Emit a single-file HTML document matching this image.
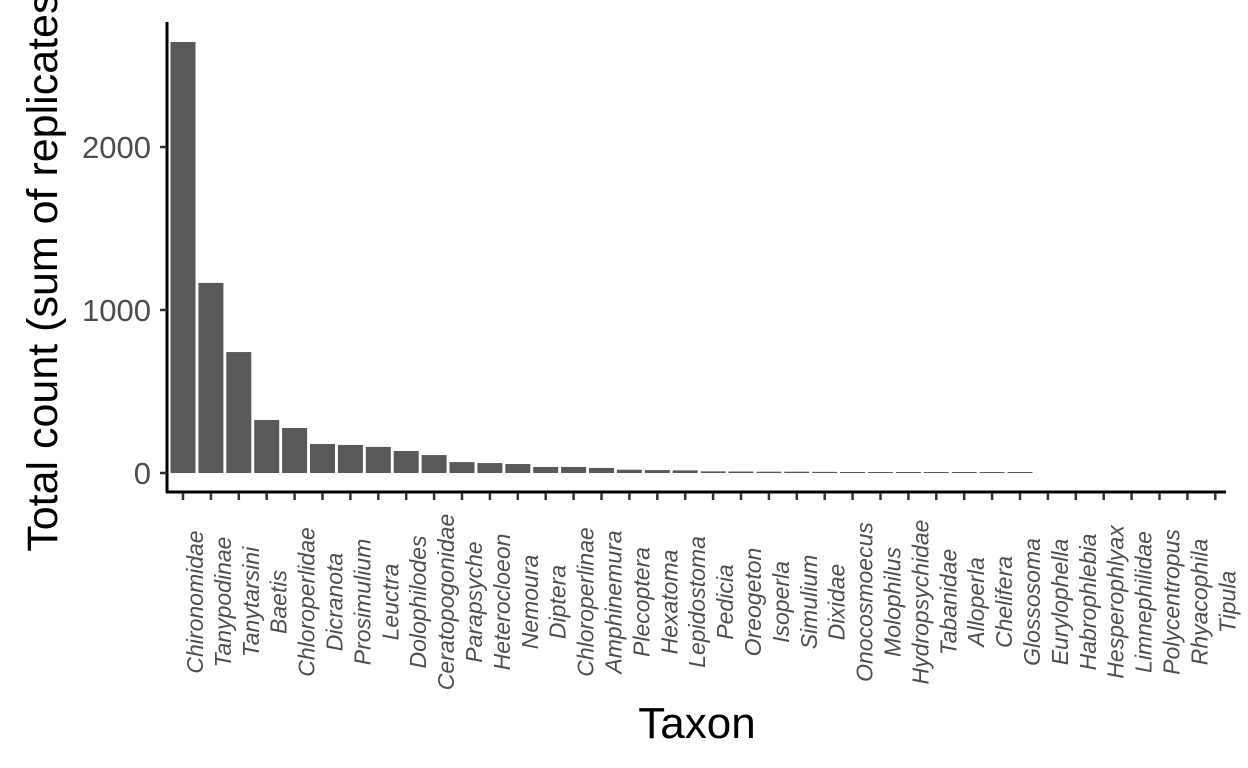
<!DOCTYPE html>
<html><head><meta charset="utf-8"><style>body{margin:0;background:#fff;overflow:hidden}svg{display:block}</style></head>
<body>
<svg id="chart" width="1248" height="768" xmlns="http://www.w3.org/2000/svg" font-family="Liberation Sans, sans-serif"></svg>
<script>
const categories=["Chironomidae","Tanypodinae","Tanytarsini","Baetis","Chloroperlidae","Dicranota","Prosimulium","Leuctra","Dolophilodes","Ceratopogonidae","Parapsyche","Heterocloeon","Nemoura","Diptera","Chloroperlinae","Amphinemura","Plecoptera","Hexatoma","Lepidostoma","Pedicia","Oreogeton","Isoperla","Simulium","Dixidae","Onocosmoecus","Molophilus","Hydropsychidae","Tabanidae","Alloperla","Chelifera","Glossosoma","Eurylophella","Habrophlebia","Hesperophlyax","Limnephilidae","Polycentropus","Rhyacophila","Tipula"];
const values=[2644,1166,742,325,276,178,172,160,135,110,67,61,55,37,37,31,20,18,16,10,9,8,8,7,6,2,2,2,2,2,2,0,0,0,0,0,0,0];
const yTicks=[0,1000,2000];
const svg=document.getElementById('chart');const NS='http://www.w3.org/2000/svg';
function mk(t,a,txt){const e=document.createElementNS(NS,t);for(const k in a)e.setAttribute(k,a[k]);if(txt!==undefined)e.textContent=txt;svg.appendChild(e);return e;}
const y=v=>473-v*0.163;
const x=i=>183+i*27.9;
values.forEach((v,i)=>{if(v<=0)return;const h=Math.max(473-y(v),1);
const r=mk('rect',{x:x(i)-12.5,y:473-h,width:25,height:h,fill:'#595959'});

});
mk('line',{x1:167,y1:22,x2:167,y2:493,stroke:'#000','stroke-width':3,});
mk('line',{x1:166,y1:492,x2:1226,y2:492,stroke:'#000','stroke-width':3,});
yTicks.forEach(t=>{const tk=mk('line',{x1:160,y1:y(t),x2:167,y2:y(t),stroke:'#333','stroke-width':2.5});

const l=mk('text',{x:151,y:y(t)+11,'text-anchor':'end','font-size':31,fill:'#4d4d4d'},t);
});
categories.forEach((c,i)=>{const tk=mk('line',{x1:x(i),y1:493,x2:x(i),y2:500,stroke:'#333','stroke-width':2.5});

const l=mk('text',{transform:`translate(${x(i)+20},602) rotate(-90)`,'text-anchor':'middle','font-size':23,'font-style':'italic',fill:'#4d4d4d'},c);
});
mk('text',{x:697,y:738,'text-anchor':'middle','font-size':44,fill:'#000',},'Taxon');
mk('text',{transform:'translate(57,265) rotate(-90)','text-anchor':'middle','font-size':43,fill:'#000',},'Total count (sum of replicates)');
</script>
</body></html>
